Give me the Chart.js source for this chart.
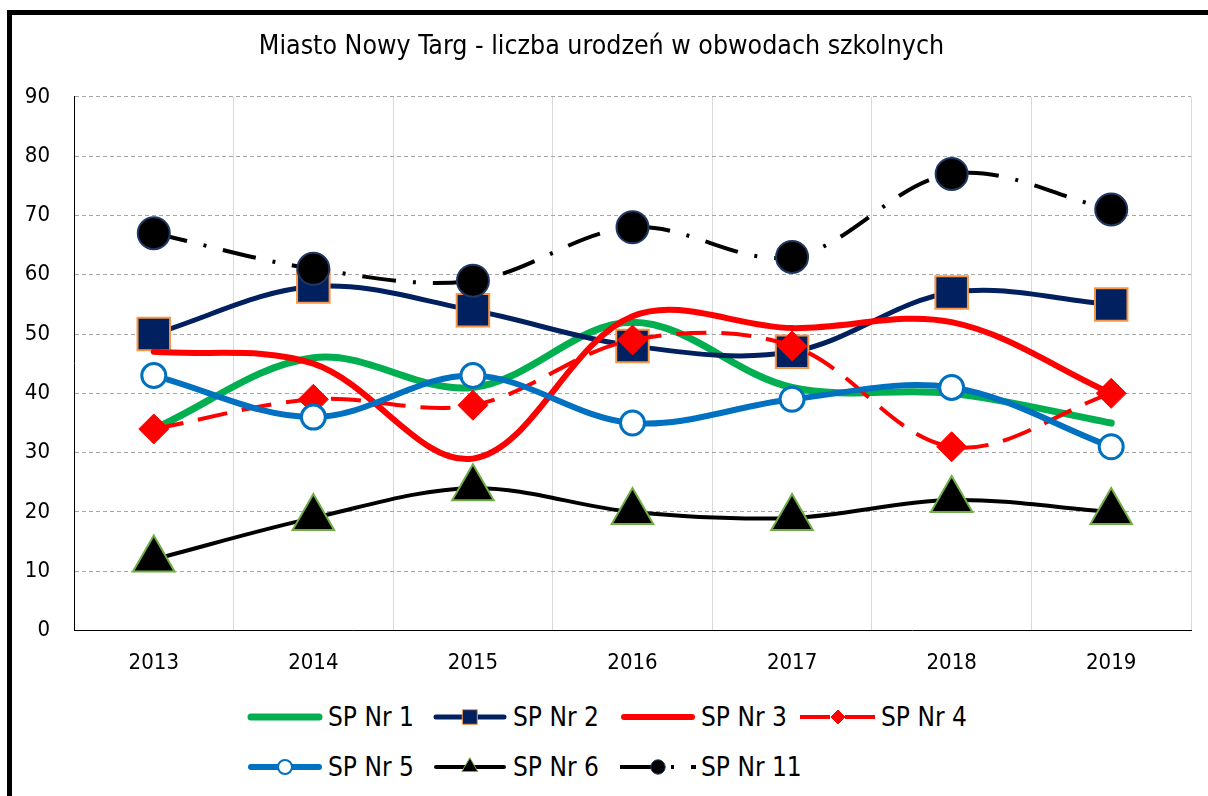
<!DOCTYPE html>
<html>
<head>
<meta charset="utf-8">
<script src="https://cdn.jsdelivr.net/npm/chart.js@4.4.0/dist/chart.umd.min.js"></script>
<style>
  body { margin: 0; background: #fff; }
  #frame { position: absolute; left: 7px; top: 10px; width: 1196px; height: 781px;
           border-left: 5px solid #000; border-top: 5px solid #000; }
  #wrap { position: absolute; left: 0; top: 0; width: 1196px; height: 680px; }
  .item { position: absolute; display: flex; align-items: center; height: 30px;
          font: 26px "DejaVu Sans Condensed", "DejaVu Sans", sans-serif; color: #000; }
  .item canvas { margin-right: 5px; }
</style>
</head>
<body>
<div id="frame">
  <div id="wrap"><canvas id="birthChart"></canvas></div>
  <div id="legend"></div>
</div>
<script>
// dane z wykresu
const years = ['2013', '2014', '2015', '2016', '2017', '2018', '2019'];
const sp1 = [34, 46, 41, 52, 41, 40, 35];
const sp2 = [50, 58, 54, 48, 47, 57, 55];
const sp3 = [47, 45, 29, 53, 51, 52, 40];
const sp4 = [34, 39, 38, 49, 48, 31, 40];
const sp5 = [43, 36, 43, 35, 39, 41, 31];
const sp6 = [12, 19, 24, 20, 19, 22, 20];
const sp11 = [67, 61, 59, 68, 63, 77, 71];
const seriesNames = ['SP Nr 1', 'SP Nr 2', 'SP Nr 3', 'SP Nr 4', 'SP Nr 5', 'SP Nr 6', 'SP Nr 11'];

const FONT = '"DejaVu Sans Condensed", "DejaVu Sans", sans-serif';

const datasets = [
    { data: sp1, borderColor: '#00B050', borderWidth: 7, pointRadius: 0, borderCapStyle: 'round' },
    { data: sp2, borderColor: '#002060', borderWidth: 5, pointStyle: 'rect', pointRadius: 23,
      pointBackgroundColor: '#002060', pointBorderColor: '#F79646', pointBorderWidth: 2 },
    { data: sp3, borderColor: '#FF0000', borderWidth: 6, pointRadius: 0, borderCapStyle: 'round' },
    { data: sp4, borderColor: '#FF0000', borderWidth: 4, borderDash: [30, 15], pointStyle: 'rectRot', pointRadius: 15,
      pointBackgroundColor: '#FF0000', pointBorderColor: '#FF0000', pointBorderWidth: 1 },
    { data: sp5, borderColor: '#0070C0', borderWidth: 6, pointStyle: 'circle', pointRadius: 12,
      pointBackgroundColor: '#FFFFFF', pointBorderColor: '#0070C0', pointBorderWidth: 3 },
    { data: sp6, borderColor: '#000000', borderWidth: 4, pointStyle: 'triangle', pointRadius: 24,
      pointBackgroundColor: '#000000', pointBorderColor: '#70AD47', pointBorderWidth: 2 },
    { data: sp11, borderColor: '#000000', borderWidth: 4, borderDash: [34, 17, 3, 17], pointStyle: 'circle', pointRadius: 16,
      pointBackgroundColor: '#000000', pointBorderColor: '#203864', pointBorderWidth: 2 }
].map((ds, i) => Object.assign({
    label: seriesNames[i],
    tension: 0.35,
    fill: false,
    order: 10 - i,
    pointHoverRadius: ds.pointRadius
}, ds));

const ctx = document.getElementById('birthChart').getContext('2d');
new Chart(ctx, {
    type: 'line',
    data: { labels: years, datasets: datasets },
    options: {
        responsive: true,
        maintainAspectRatio: false,
        animation: false,
        layout: { autoPadding: false, padding: { left: 0, right: 17, top: 0, bottom: 0 } },
        scales: {
            x: {
                offset: true,
                afterFit: s => { s.paddingLeft = 0; s.paddingRight = 0; },
                grid: {
                    offset: true,
                    drawTicks: false,
                    color: c => c.index === 0 ? 'rgba(0,0,0,0)' : '#d9d9d9'
                },
                border: { color: '#000', width: 1 },
                ticks: { color: '#000', padding: 19, font: { family: FONT, size: 22 } }
            },
            y: {
                min: 0,
                max: 90,
                afterFit: s => { s.width = 62; },
                grid: {
                    drawTicks: false,
                    color: c => (c.tick && c.tick.value === 0) ? 'rgba(0,0,0,0)' : '#a6a6a6'
                },
                border: { color: '#000', width: 1, dash: [4, 3] },
                ticks: { stepSize: 10, color: '#000', padding: 24, font: { family: FONT, size: 22 } }
            }
        },
        plugins: {
            legend: { display: false },
            tooltip: { enabled: false },
            title: {
                display: true,
                text: 'Miasto Nowy Targ - liczba urodzeń w obwodach szkolnych',
                color: '#000',
                font: { family: FONT, size: 26.5, weight: 'normal' },
                padding: { top: 16, bottom: 34 }
            }
        }
    }
});

// legenda (HTML) - dwa wiersze jak w oryginale
const legendPos = [[235, 687], [420, 687], [608, 687], [788, 687], [235, 737], [420, 737], [608, 737]];

function drawMarker(g, ds, x, y, r) {
    g.beginPath();
    if (ds.pointStyle === 'rect') {
        const s = r * Math.SQRT1_2;
        g.rect(x - s, y - s, 2 * s, 2 * s);
    } else if (ds.pointStyle === 'rectRot') {
        g.moveTo(x, y - r); g.lineTo(x + r, y); g.lineTo(x, y + r); g.lineTo(x - r, y); g.closePath();
    } else if (ds.pointStyle === 'triangle') {
        g.moveTo(x, y - r);
        g.lineTo(x + r * Math.sin(Math.PI / 3), y + r / 2);
        g.lineTo(x - r * Math.sin(Math.PI / 3), y + r / 2);
        g.closePath();
    } else {
        g.arc(x, y, r, 0, Math.PI * 2);
    }
    g.fillStyle = ds.pointBackgroundColor;
    g.fill();
    g.lineWidth = Math.max(1, ds.pointBorderWidth - 1);
    g.strokeStyle = ds.pointBorderColor;
    g.stroke();
}

const legendBox = document.getElementById('legend');
datasets.forEach((ds, i) => {
    const item = document.createElement('div');
    item.className = 'item';
    item.style.left = legendPos[i][0] + 'px';
    item.style.top = legendPos[i][1] + 'px';
    const c = document.createElement('canvas');
    c.width = 76; c.height = 30;
    const g = c.getContext('2d');
    g.strokeStyle = ds.borderColor;
    g.lineWidth = ds.borderWidth;
    g.lineCap = ds.borderDash ? 'butt' : 'round';
    g.setLineDash(ds.borderDash || []);
    g.beginPath();
    g.moveTo(ds.borderDash ? 0 : 4, 15);
    g.lineTo(ds.borderDash ? 76 : 72, 15);
    g.stroke();
    g.setLineDash([]);
    if (ds.pointRadius > 0) {
        drawMarker(g, ds, 38, 15, ds.pointStyle === 'triangle' ? 9 : Math.max(7, ds.pointRadius * 0.45));
    }
    const t = document.createElement('span');
    t.textContent = ds.label;
    item.appendChild(c);
    item.appendChild(t);
    legendBox.appendChild(item);
});
</script>
</body>
</html>
